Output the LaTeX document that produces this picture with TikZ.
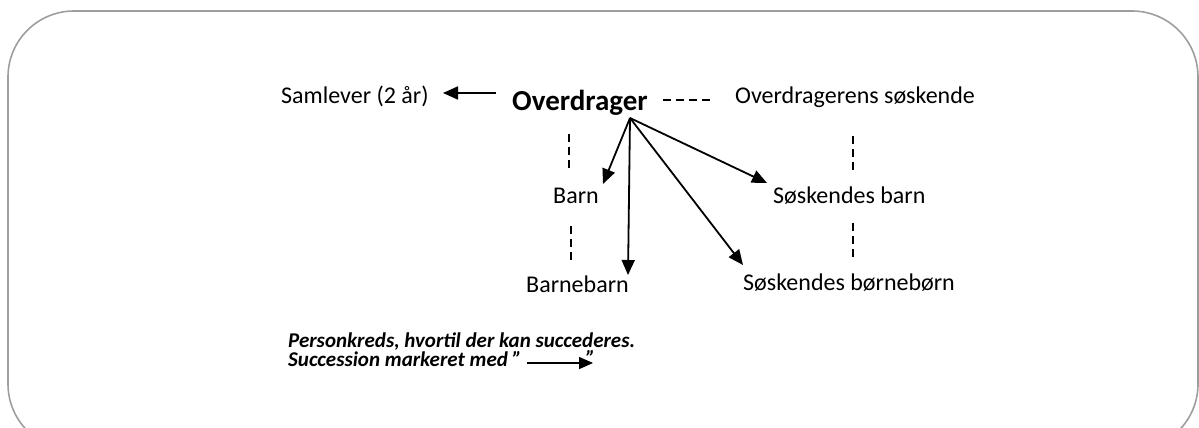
\documentclass[tikz,border=0pt]{standalone}
\usepackage{fontspec}
\setmainfont{Carlito}
\usepackage{tikz}
\usetikzlibrary{arrows.meta}

\tikzset{
  lbl/.style={anchor=base west,inner sep=0pt,font=\fontsize{24}{26}\selectfont},
  note/.style={anchor=base west,inner sep=0pt,font=\fontsize{21}{22}\selectfont\bfseries\itshape},
  succ/.style={line width=1.8pt,-{Triangle[length=15pt,width=13pt]}},
  kin/.style={line width=1.5pt,dash pattern=on 8pt off 5pt},
}

\begin{document}
\begin{tikzpicture}[x=1pt,y=-1pt]
   \useasboundingbox (0,0) rectangle (1199,428);
   \draw[color=black!38,line width=1.6pt,rounded corners=66pt] (8,11) rectangle (1198,450);
   \node[lbl] (samlever) at (281,103) {Samlever (2 år)};
   \node[lbl,font=\fontsize{29}{32}\selectfont\bfseries] (overdrager) at (512,110) {Overdrager};
   \node[lbl] (soeskende) at (735,103) {Overdragerens søskende};
   \node[lbl] (barn) at (553,203) {Barn};
   \node[lbl] (barnebarn) at (526,292) {Barnebarn};
   \node[lbl] (sbarn) at (773,203) {Søskendes barn};
   \node[lbl] (sboern) at (743,290) {Søskendes børnebørn};
   \coordinate (apex) at (630,118);
   \coordinate (tsamlever) at (443,93);
   \coordinate (tbarn) at (603,184);
   \coordinate (tbarnebarn) at (628,275);
   \coordinate (tsboern) at (743,265);
   \coordinate (tsbarn) at (767,183);
   \draw[succ] (overdrager.west |- tsamlever) ++(-16,0) -- (tsamlever);
   \foreach \t in {tbarn,tbarnebarn,tsboern,tsbarn} {\draw[succ] (apex) -- (\t);}
   \draw[kin] (663,100) -- (710,100);
   \draw[kin] (569,134) -- (569,168);
   \draw[kin] (571,226) -- (571,260);
   \draw[kin] (853,136) -- (853,170);
   \draw[kin] (853,223) -- (853,257);
   \node[note] (note1) at (288,347) {Personkreds, hvortil der kan succederes.};
   \node[note] (note2) at (288,366) {Succession markeret med ”};
   \coordinate (tnote) at (593,363);
   \draw[line width=1.4pt,-{Triangle[length=14pt,width=12pt]}] (note2.east |- tnote) ++(5,0) -- (tnote);
   \node[note] (quote2) at (586,365) {”};
\end{tikzpicture}
\end{document}
